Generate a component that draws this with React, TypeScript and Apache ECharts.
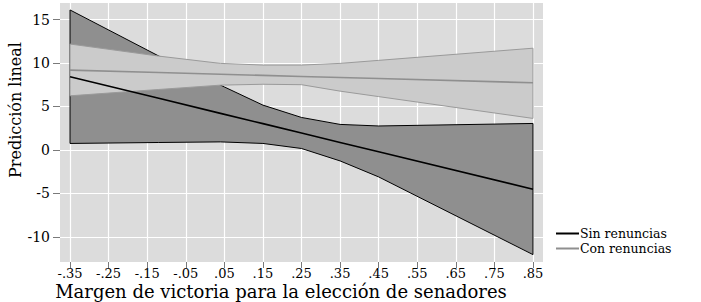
import React, { useEffect, useRef } from "react";
import * as echarts from "echarts";

// x positions where predictions were evaluated
const xPoints = [-0.35, -0.12, 0.04, 0.15, 0.25, 0.35, 0.45, 0.85];
// Sin renuncias (black)
const sinFit = [8.41, 5.93, 4.2, 3.02, 1.94, 0.86, -0.22, -4.53];
const sinLo = [0.74, 0.85, 0.92, 0.74, 0.16, -1.27, -3.11, -12.05];
const sinHi = [16.1, 10.8, 7.45, 5.15, 3.73, 2.93, 2.75, 3.04];
// Con renuncias (gray)
const conFit = [9.18, 8.9, 8.71, 8.57, 8.45, 8.33, 8.21, 7.72];
const conLo = [6.22, 6.95, 7.45, 7.55, 7.5, 6.76, 6.13, 3.62];
const conHi = [12.18, 10.79, 9.95, 9.76, 9.76, 9.95, 10.3, 11.7];

const xTicks = [-0.35, -0.25, -0.15, -0.05, 0.05, 0.15, 0.25, 0.35, 0.45, 0.55, 0.65, 0.75, 0.85];
const xTickLabels = ["-.35", "-.25", "-.15", "-.05", ".05", ".15", ".25", ".35", ".45", ".55", ".65", ".75", ".85"];
const yTicks = [-10, -5, 0, 5, 10, 15];

const FONT = "DejaVu Serif";

function bandSeries(name: string, lo: number[], hi: number[], fill: string, stroke: string, z: number) {
  return {
    type: "custom",
    name,
    z,
    silent: true,
    data: xPoints.map((x, i) => [x, lo[i], hi[i]]),
    encode: { x: 0, y: [1, 2] },
    renderItem: (params: any, api: any) => {
      if (params.dataIndex !== 0) return { type: "group", children: [] };
      const pts: number[][] = [];
      for (let i = 0; i < xPoints.length; i++) pts.push(api.coord([xPoints[i], hi[i]]));
      for (let i = xPoints.length - 1; i >= 0; i--) pts.push(api.coord([xPoints[i], lo[i]]));
      return {
        type: "polygon",
        shape: { points: pts },
        style: { fill, stroke, lineWidth: 1 },
      };
    },
  };
}

export default function App() {
  const ref = useRef<HTMLDivElement>(null);
  useEffect(() => {
    if (!ref.current) return;
    const chart = echarts.init(ref.current, undefined, { renderer: "svg" });
    chart.setOption({
      animation: false,
      grid: {
        left: 60,
        top: 3,
        width: 483,
        height: 259,
        show: true,
        backgroundColor: "#dcdcdc",
        borderWidth: 0,
      },
      legend: {
        data: ["Sin renuncias", "Con renuncias"],
        orient: "vertical",
        left: 556,
        top: 227,
        itemWidth: 23,
        itemHeight: 2,
        itemGap: 2,
        padding: 0,
        icon: "rect",
        textStyle: { fontFamily: FONT, fontSize: 12.5, lineHeight: 12, color: "#000", padding: [0, 0, 0, -4] },
      },
      xAxis: {
        type: "value",
        min: -0.376,
        max: 0.876,
        axisLine: { show: false, onZero: false },
        axisTick: {
          show: true,
          length: 6,
          lineStyle: { color: "#7a7a7a" },
          customValues: xTicks,
        },
        axisLabel: {
          customValues: xTicks,
          margin: 5,
          fontFamily: FONT,
          fontSize: 13,
          color: "#000",
          formatter: (v: number) => {
            const i = xTicks.findIndex((t) => Math.abs(t - v) < 1e-6);
            return i >= 0 ? xTickLabels[i] : "";
          },
        },
        splitLine: { show: true, lineStyle: { color: "#ffffff", width: 1.2 } },
      },
      yAxis: {
        type: "value",
        min: -12.9,
        max: 16.9,
        axisLine: { show: false, onZero: false },
        axisTick: {
          show: true,
          length: 7,
          lineStyle: { color: "#7a7a7a" },
          customValues: yTicks,
        },
        axisLabel: {
          customValues: yTicks,
          margin: 10,
          fontFamily: FONT,
          fontSize: 14,
          color: "#000",
        },
        splitLine: { show: true, lineStyle: { color: "#ffffff", width: 1.2 } },
      },
      graphic: [
        {
          type: "text",
          x: 15,
          y: 110,
          rotation: Math.PI / 2,
          style: {
            text: "Predicción lineal",
            fontFamily: FONT,
            fontSize: 16,
            fill: "#000",
            textAlign: "center",
            textVerticalAlign: "middle",
          },
        },
        {
          type: "text",
          x: 281,
          y: 300,
          style: {
            text: "Margen de victoria para la elección de senadores",
            fontFamily: FONT,
            fontSize: 18,
            fill: "#000",
            textAlign: "center",
            textVerticalAlign: "bottom",
          },
        },
      ],
      series: [
        bandSeries("bandaSin", sinLo, sinHi, "#8f8f8f", "#000000", 1),
        bandSeries("bandaCon", conLo, conHi, "#cbcbcb", "#9a9a9a", 2),
        {
          type: "line",
          name: "Sin renuncias",
          z: 3,
          data: xPoints.map((x, i) => [x, sinFit[i]]),
          symbol: "none",
          color: "#000000",
          lineStyle: { color: "#000000", width: 1.6 },
        },
        {
          type: "line",
          name: "Con renuncias",
          z: 4,
          data: xPoints.map((x, i) => [x, conFit[i]]),
          symbol: "none",
          color: "#8f8f8f",
          lineStyle: { color: "#8f8f8f", width: 1.6 },
        },
      ],
    });
    return () => chart.dispose();
  }, []);
  return (
    <div
      ref={ref}
      style={{ position: "fixed", left: 0, top: 0, width: 701, height: 302, background: "#fff" }}
    />
  );
}
